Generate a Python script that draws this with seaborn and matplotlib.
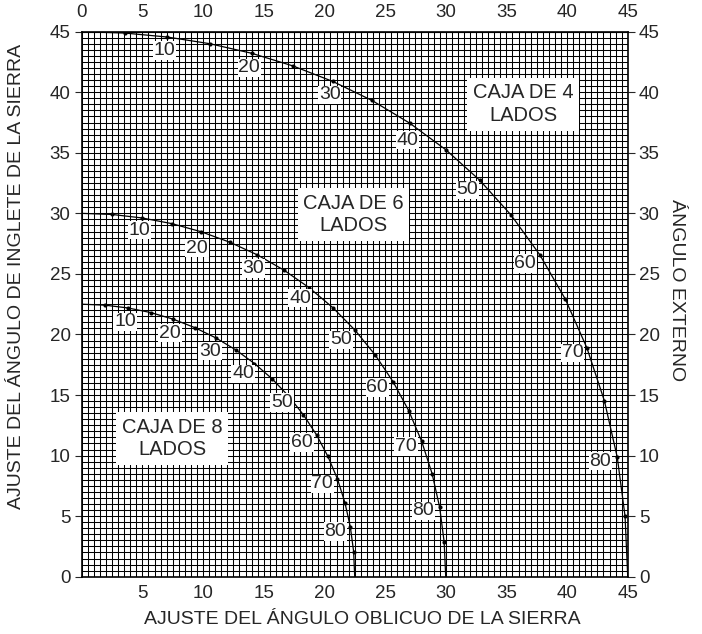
import pandas as pd
import matplotlib
matplotlib.use("Agg")
import matplotlib.pyplot as plt
from matplotlib.ticker import MultipleLocator, FuncFormatter
import seaborn as sns

sns.set_style("white")
plt.rcParams['font.family'] = ['Liberation Sans', 'DejaVu Sans']

# tilt angle of the box sides (the "angulo externo" along each curve)
tilt = [0, 5, 10, 15, 20, 25, 30, 35, 40, 45, 50, 55, 60, 65, 70, 75, 80, 85, 90]

# caja de 4 lados
bevel_4 = [0, 3.53, 7.05, 10.55, 14.00, 17.39, 20.70, 23.93, 27.03, 30.00,
           32.80, 35.40, 37.76, 39.86, 41.64, 43.08, 44.14, 44.78, 45.0]
miter_4 = [45.0, 44.89, 44.56, 44.01, 43.22, 42.18, 40.89, 39.32, 37.45, 35.26,
           32.74, 29.84, 26.57, 22.91, 18.88, 14.51, 9.85, 4.98, 0]

# caja de 6 lados
bevel_6 = [0, 2.50, 4.98, 7.44, 9.85, 12.20, 14.48, 16.67, 18.75, 20.70,
           22.52, 24.18, 25.66, 26.95, 28.02, 28.88, 29.50, 29.87, 30.0]
miter_6 = [30.0, 29.91, 29.62, 29.15, 28.48, 27.62, 26.57, 25.31, 23.86, 22.21,
           20.36, 18.32, 16.10, 13.71, 11.17, 8.50, 5.73, 2.88, 0]

# caja de 8 lados
bevel_8 = [0, 1.91, 3.81, 5.68, 7.52, 9.31, 11.03, 12.68, 14.24, 15.70,
           17.05, 18.27, 19.36, 20.29, 21.08, 21.69, 22.14, 22.41, 22.5]
miter_8 = [22.5, 22.42, 22.19, 21.81, 21.27, 20.57, 19.73, 18.74, 17.60, 16.33,
           14.91, 13.37, 11.70, 9.93, 8.06, 6.12, 4.11, 2.07, 0]

labelled = [10, 20, 30, 40, 50, 60, 70, 80]

# where each number sits relative to its dot (data units)
offsets_4 = [(-0.2, -1.1), (-0.2, -1.2), (-0.25, -1.1), (-0.2, -1.4),
             (-1.0, -0.8), (-1.2, -0.7), (-1.2, -0.4), (-1.4, -0.3)]
offsets_6 = [(-0.2, -1.0), (-0.35, -1.35), (-0.35, -1.1), (-0.75, -0.85),
             (-1.15, -0.8), (-1.3, -0.5), (-1.3, -0.4), (-1.35, -0.3)]
offsets_8 = [(-0.25, -1.15), (-0.25, -1.15), (-0.45, -1.1), (-0.95, -0.85),
             (-0.55, -0.55), (-1.2, -0.6), (-1.25, -0.4), (-1.25, -0.4)]

frames = []
for name, bx, my in [("4", bevel_4, miter_4), ("6", bevel_6, miter_6), ("8", bevel_8, miter_8)]:
    frames.append(pd.DataFrame({"caja": name, "tilt": tilt, "bevel": bx, "miter": my}))
df = pd.concat(frames, ignore_index=True)

fig = plt.figure(figsize=(7.02, 6.34), dpi=100)
ax = fig.add_axes([0.1164, 0.0904, 0.7778, 0.8596])

sns.lineplot(data=df, x="bevel", y="miter", units="caja", estimator=None, sort=False,
             color="black", lw=0.9, ax=ax, zorder=3)
dots = df[(df.tilt > 0) & (df.tilt < 90)]
sns.scatterplot(data=dots, x="bevel", y="miter", color="black", s=9, linewidth=0,
                ax=ax, zorder=4)

for name, offs in [("4", offsets_4), ("6", offsets_6), ("8", offsets_8)]:
    sub = df[df.caja == name].set_index("tilt")
    for t, (dx, dy) in zip(labelled, offs):
        ax.text(sub.loc[t, "bevel"] + dx, sub.loc[t, "miter"] + dy, str(t),
                ha="center", va="center", fontsize=14, zorder=5,
                bbox=dict(facecolor="white", edgecolor="none", pad=0.5))

box_kw = dict(ha="center", va="center", fontsize=14.5, linespacing=1.25, zorder=5,
              bbox=dict(facecolor="white", edgecolor="none", pad=4))
ax.text(36.4, 39.0, "CAJA DE 4\nLADOS", **box_kw)
ax.text(22.4, 29.9, "CAJA DE 6\nLADOS", **box_kw)
ax.text(7.45, 11.4, "CAJA DE 8\nLADOS", **box_kw)

ax.set_xlim(0, 45)
ax.set_ylim(0, 45)
ax.xaxis.set_major_locator(MultipleLocator(5))
ax.yaxis.set_major_locator(MultipleLocator(5))
ax.xaxis.set_minor_locator(MultipleLocator(0.5))
ax.yaxis.set_minor_locator(MultipleLocator(0.5))
ax.set_axisbelow(True)
ax.grid(which="both", color="black", lw=0.75)
ax.xaxis.set_major_formatter(FuncFormatter(lambda v, p: "" if v == 0 else f"{v:.0f}"))
ax.tick_params(which="minor", length=0)
ax.tick_params(axis="x", which="major", length=3, pad=3, labelsize=13.5)
ax.tick_params(axis="y", which="major", length=5, pad=3, labelsize=13.5,
               left=True, right=True, labelright=True)
for sp in ax.spines.values():
    sp.set_color("black")
    sp.set_linewidth(1.2)
ax.set_xlabel("")
ax.set_ylabel("")

top = ax.secondary_xaxis("top")
top.set_xticks(range(0, 46, 5))
top.tick_params(length=0, pad=8, labelsize=13.5)

fig.text(362 / 702, 1 - 620 / 634, "AJUSTE DEL ÁNGULO OBLICUO DE LA SIERRA",
         ha="center", va="center", fontsize=14)
fig.text(17 / 702, 1 - 276 / 634, "AJUSTE DEL ÁNGULO DE INGLETE DE LA SIERRA",
         ha="center", va="center", rotation=90, fontsize=14)
fig.text(677 / 702, 1 - 290 / 634, "ÁNGULO EXTERNO",
         ha="center", va="center", rotation=-90, fontsize=14)

fig.savefig("out.png", dpi=100)
